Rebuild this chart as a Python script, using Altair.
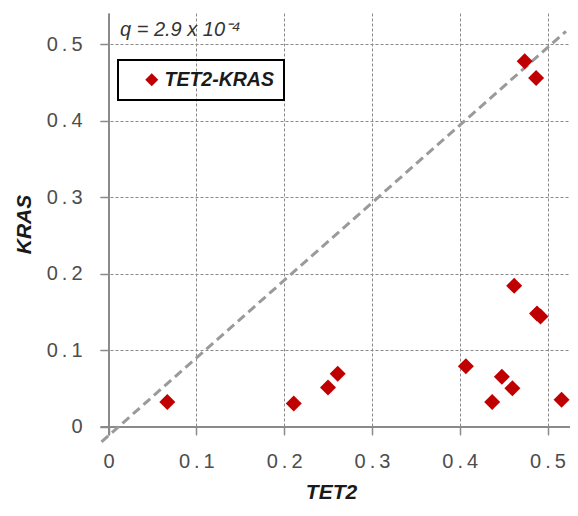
import altair as alt
import pandas as pd

# Data
tet2 = [0.067, 0.211, 0.250, 0.261, 0.407, 0.437, 0.448, 0.460, 0.516, 0.462, 0.488, 0.492, 0.474, 0.487]
kras = [0.032, 0.030, 0.051, 0.069, 0.079, 0.032, 0.065, 0.050, 0.035, 0.184, 0.148, 0.144, 0.478, 0.456]
series = ["TET2-KRAS"] * len(tet2)

diag_x = [-0.008, 0.521]
diag_y = [-0.020, 0.517]

x_ticks = [0, 0.1, 0.2, 0.3, 0.4, 0.5]
y_ticks = [0, 0.1, 0.2, 0.3, 0.4, 0.5]

pts = pd.DataFrame({"TET2": tet2, "KRAS": kras, "series": series})
diag = pd.DataFrame({"TET2": diag_x, "KRAS": diag_y})

FONT = "Liberation Sans"
LABEL_COLOR = "#4d4d4d"
TITLE_COLOR = "#1a1a1a"
GRID_COLOR = "#8a8a8a"

xscale = alt.Scale(domain=[-0.0097, 0.5256], nice=False, zero=False)
yscale = alt.Scale(domain=[-0.0111, 0.541], nice=False, zero=False)

# labels drawn with thin spaces between characters, as in the reference
label_expr = ("datum.value == 0 ? '0' : "
              "join(split(format(datum.value, '.1f'), ''), '\u2009')")

xaxis = alt.Axis(
    values=x_ticks, labelExpr=label_expr, title="TET2",
    offset=-8.5, tickSize=8, tickColor=GRID_COLOR, tickWidth=1.5,
    domainColor=GRID_COLOR, domainWidth=2,
    grid=True, gridColor=GRID_COLOR, gridDash=[3, 2], gridWidth=1, gridOpacity=1,
    labelFont=FONT, labelFontSize=20, labelColor=LABEL_COLOR, labelPadding=17,
    titleFont=FONT, titleFontSize=21, titleFontStyle="italic", titleFontWeight="bold",
    titleColor=TITLE_COLOR, titlePadding=10, titleX=231,
)
yaxis = alt.Axis(
    values=y_ticks, labelExpr=label_expr, title="KRAS",
    offset=-8.5, tickSize=8.5, tickColor=GRID_COLOR, tickWidth=1.5,
    domainColor=GRID_COLOR, domainWidth=2,
    grid=True, gridColor=GRID_COLOR, gridDash=[3, 2], gridWidth=1, gridOpacity=1,
    labelFont=FONT, labelFontSize=20, labelColor=LABEL_COLOR, labelPadding=18,
    titleFont=FONT, titleFontSize=21, titleFontStyle="italic", titleFontWeight="bold",
    titleColor=TITLE_COLOR, titlePadding=12,
)

diag_line = alt.Chart(diag).mark_line(
    color="#9a9a9a", strokeWidth=3, strokeDash=[9, 5], clip=False
).encode(
    x=alt.X("TET2:Q", scale=xscale, axis=xaxis),
    y=alt.Y("KRAS:Q", scale=yscale, axis=yaxis),
)

points = alt.Chart(pts).mark_point(
    shape="diamond", filled=True, size=256, opacity=1
).encode(
    x=alt.X("TET2:Q", scale=xscale),
    y=alt.Y("KRAS:Q", scale=yscale),
    color=alt.Color(
        "series:N",
        scale=alt.Scale(domain=["TET2-KRAS"], range=["#C00000"]),
        legend=alt.Legend(
            title=None, orient="none", legendX=18, legendY=47,
            symbolType="diamond", symbolSize=170, symbolOffset=14,
            labelFont=FONT, labelFontSize=19.5, labelFontStyle="italic",
            labelFontWeight="bold", labelColor=TITLE_COLOR, labelOffset=3,
            padding=10, strokeColor="#000000",
        ),
    ),
)

chart = alt.layer(diag_line, points).properties(
    width=470,
    height=422,
    autosize=alt.AutoSizeParams(type="none"),
    padding={"left": 92, "top": 5, "right": 0, "bottom": 72},
    title=alt.TitleParams(
        "q = 2.9 x 10⁻⁴", anchor="start", frame="group", orient="top",
        offset=0, dx=20, dy=43, baseline="alphabetic",
        font=FONT, fontSize=20, fontStyle="italic", fontWeight="normal",
        color="#333333",
    ),
).configure_view(stroke=None).configure_legend(strokeWidth=2)

chart.save("out.html", embed_options={"renderer": "svg", "actions": False})
